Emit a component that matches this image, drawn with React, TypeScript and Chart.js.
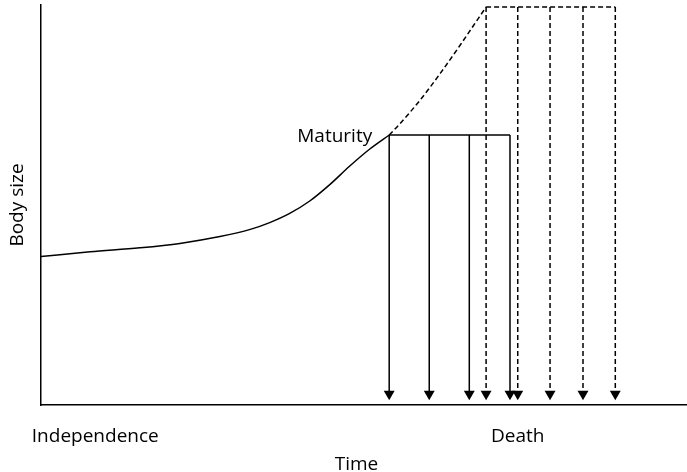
import React, { useEffect, useRef } from "react";
import { Chart, registerables } from "chart.js";

Chart.register(...registerables);

// Growth curve up to maturity (time, body size) in 0–100 units
const curveTime = [0, 7.6, 15.3, 21.5, 27.7, 32.4, 35.4, 38.5, 41.6, 44.7, 47.8, 50.9, 53.9];
const curveSize = [37.1, 38.3, 39.3, 40.4, 42.1, 43.9, 45.6, 47.9, 51.0, 55.1, 59.75, 64.0, 67.5];

// Hypothetical continued growth (dashed)
const dashedTime = [53.9, 55.6, 58.7, 61.8, 64.9, 66.9, 68.9];
const dashedSize = [67.5, 70.4, 76.25, 82.9, 90.0, 94.75, 99.5];

// Death times
const solidDeaths = [53.9, 60.1, 66.3, 72.6];
const dashedDeaths = [68.9, 73.8, 78.8, 83.9, 88.9];
const maturitySize = 67.5;
const maxSize = 99.5;
const arrowEndSize = 2.75;

// Axis labels
const tickValues = [8.4, 73.8];
const tickLabels = ["Independence", "Death"];

const FONT = "'Open Sans', 'Noto Sans', sans-serif";
const FONT_SIZE = 19;
const INK = "#000000";

export default function App() {
  const ref = useRef<HTMLCanvasElement | null>(null);

  useEffect(() => {
    const canvas = ref.current;
    if (!canvas) return;

    const arrowSet = (x: number, top: number, dashed: boolean) => ({
      data: [
        { x, y: top },
        { x, y: arrowEndSize },
      ],
      borderColor: INK,
      backgroundColor: INK,
      borderWidth: 1.5,
      borderDash: dashed ? [5, 3] : [],
      pointRadius: [0, 6.3],
      pointStyle: "triangle",
      pointRotation: 180,
      pointBorderWidth: 0,
      pointBackgroundColor: INK,
      fill: false,
    });

    const datasets: any[] = [
      {
        data: curveTime.map((t, i) => ({ x: t, y: curveSize[i] })),
        borderColor: INK,
        borderWidth: 1.5,
        pointRadius: 0,
        cubicInterpolationMode: "monotone",
        fill: false,
      },
      {
        data: dashedTime.map((t, i) => ({ x: t, y: dashedSize[i] })),
        borderColor: INK,
        borderWidth: 1.5,
        borderDash: [5, 3],
        pointRadius: 0,
        cubicInterpolationMode: "monotone",
        fill: false,
      },
      {
        data: [
          { x: solidDeaths[0], y: maturitySize },
          { x: solidDeaths[solidDeaths.length - 1], y: maturitySize },
        ],
        borderColor: INK,
        borderWidth: 1.5,
        pointRadius: 0,
      },
      {
        data: [
          { x: dashedDeaths[0], y: maxSize },
          { x: dashedDeaths[dashedDeaths.length - 1], y: maxSize },
        ],
        borderColor: INK,
        borderWidth: 1.5,
        borderDash: [5, 3],
        pointRadius: 0,
      },
      ...solidDeaths.map((x) => arrowSet(x, maturitySize, false)),
      ...dashedDeaths.map((x) => arrowSet(x, maxSize, true)),
    ];

    const labelsPlugin = {
      id: "labelsPlugin",
      afterDatasetsDraw(chart: any) {
        const { ctx, scales } = chart;
        const px = scales.x.getPixelForValue(curveTime[curveTime.length - 1]);
        const py = scales.y.getPixelForValue(maturitySize);
        ctx.save();
        ctx.font = `${FONT_SIZE}px ${FONT}`;
        ctx.fillStyle = INK;
        ctx.textAlign = "right";
        ctx.textBaseline = "alphabetic";
        ctx.fillText("Maturity", px - 17, py + 7);
        // x-axis title
        ctx.textAlign = "center";
        ctx.textBaseline = "middle";
        ctx.fillText("Time", 356.5, 465);
        ctx.restore();
      },
    };

    const chart = new Chart(canvas, {
      type: "line",
      data: { datasets },
      plugins: [labelsPlugin],
      options: {
        responsive: false,
        animation: false,
        events: [],
        layout: { autoPadding: false, padding: { top: 5, right: 0, left: 0, bottom: 0 } },
        plugins: {
          legend: { display: false },
          tooltip: { enabled: false },
        },
        scales: {
          x: {
            type: "linear",
            min: 0,
            max: 100,
            grid: { display: false, drawTicks: false },
            border: { display: true, color: INK, width: 1.5 },
            afterBuildTicks: (scale: any) => {
              scale.ticks = tickValues.map((v) => ({ value: v }));
            },
            afterFit: (scale: any) => {
              scale.height = 67;
            },
            ticks: {
              autoSkip: false,
              maxRotation: 0,
              padding: 20,
              color: INK,
              font: { family: FONT, size: FONT_SIZE, lineHeight: 1.2 },
              callback: (_v: any, i: number) => tickLabels[i],
            },
            title: { display: false },
          },
          y: {
            type: "linear",
            min: 0,
            max: 100,
            grid: { display: false, drawTicks: false },
            border: { display: true, color: INK, width: 1.5 },
            afterFit: (scale: any) => {
              scale.width = 41;
            },
            ticks: { display: false },
            title: {
              display: true,
              text: "Body size",
              color: INK,
              font: { family: FONT, size: FONT_SIZE, lineHeight: 1.2 },
              padding: { top: 6, bottom: 12 },
            },
          },
        },
      },
    } as any);

    return () => chart.destroy();
  }, []);

  return (
    <div style={{ position: "fixed", left: 0, top: 0, width: 687, height: 472, background: "#fff" }}>
      <canvas ref={ref} width={687} height={472} style={{ display: "block" }} />
    </div>
  );
}
